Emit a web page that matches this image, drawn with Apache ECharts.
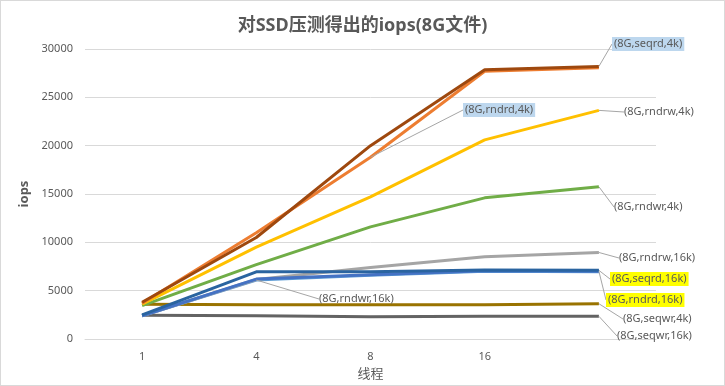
<!DOCTYPE html>
<html>
<head>
<meta charset="utf-8">
<script src="https://cdn.jsdelivr.net/npm/echarts@6/dist/echarts.min.js"></script>
<style>
html,body{margin:0;padding:0;background:#fff;}
#c{width:725px;height:386px;box-sizing:border-box;border:1px solid #D9D9D9;}
</style>
</head>
<body>
<div id="c"></div>
<script>
// ---- data ----
var categories = ['1', '4', '8', '16', ''];
var seqrd4k  = [3800, 10500, 20000, 27850, 28200];
var rndrd4k  = [3700, 11000, 18800, 27700, 28050];
var rndrw4k  = [3600, 9500, 14700, 20600, 23650];
var rndwr4k  = [3450, 7700, 11600, 14600, 15750];
var rndrw16k = [2400, 6150, 7400, 8500, 8950];
var rndwr16k = [2400, 6100, 6600, 7000, 6950];
var rndrd16k = [2400, 6200, 6650, 7050, 7000];
var seqrd16k = [2500, 6950, 6950, 7150, 7100];
var seqwr4k  = [3600, 3550, 3550, 3550, 3650];
var seqwr16k = [2450, 2400, 2300, 2350, 2350];
var yTicks = [0, 5000, 10000, 15000, 20000, 25000, 30000];

var txt = '#595959';
var fam = '"Noto Sans", "Noto Sans CJK SC", sans-serif';

function mk(name, data, color, labelIdx, lx, ly, bg) {
  var d = data.map(function (v, i) {
    if (i === labelIdx) {
      return {value: v, label: {show: true, formatter: name}};
    }
    return v;
  });
  var lab = {show: false, color: txt, fontSize: 11, fontFamily: fam, padding: [2, 2, 1, 2]};
  if (bg) lab.backgroundColor = bg;
  return {
    name: name, type: 'line', data: d,
    symbol: 'circle', symbolSize: 0.1, showSymbol: true,
    itemStyle: {color: color},
    lineStyle: {color: color, width: 3},
    label: lab,
    labelLine: {show: true, lineStyle: {color: '#A6A6A6', width: 1}},
    labelLayout: {x: lx, y: ly, align: 'left', verticalAlign: 'middle', hideOverlap: false, moveOverlap: null},
    emphasis: {disabled: true},
    z: 2
  };
}

var series = [
  mk('(8G,seqwr,16k)', seqwr16k, '#636363', 4, 614, 335),
  mk('(8G,seqwr,4k)', seqwr4k, '#997300', 4, 620, 318),
  mk('(8G,rndwr,16k)', rndwr16k, '#5B9BD5', 1, 316, 298),
  mk('(8G,rndrw,16k)', rndrw16k, '#A5A5A5', 4, 616, 257),
  mk('(8G,rndrd,16k)', rndrd16k, '#4472C4', 4, 605, 299, '#FFFF00'),
  mk('(8G,seqrd,16k)', seqrd16k, '#2A64A0', 4, 609, 278, '#FFFF00'),
  mk('(8G,rndwr,4k)', rndwr4k, '#70AD47', 4, 611, 206),
  mk('(8G,rndrw,4k)', rndrw4k, '#FFC000', 4, 621, 111),
  mk('(8G,rndrd,4k)', rndrd4k, '#ED7D31', 2, 462, 109, '#BDD7EE'),
  mk('(8G,seqrd,4k)', seqrd4k, '#9E480E', 4, 611, 43, '#BDD7EE')
];

var chart = echarts.init(document.getElementById('c'), null, {renderer: 'canvas'});
chart.setOption({
  animation: false,
  backgroundColor: '#fff',
  title: {
    text: '对SSD压测得出的iops(8G文件)',
    left: 'center', top: 11,
    textStyle: {color: txt, fontSize: 18, fontWeight: 'bold', fontFamily: fam}
  },
  grid: {left: 84, right: 68, top: 48, bottom: 46, containLabel: false, outerBoundsMode: 'none'},
  xAxis: {
    type: 'category', data: categories, boundaryGap: true,
    name: '线程', nameLocation: 'middle', nameGap: 29,
    nameTextStyle: {color: txt, fontSize: 13, fontFamily: fam},
    axisLine: {lineStyle: {color: '#D9D9D9', width: 1}},
    axisTick: {show: false},
    axisLabel: {color: txt, fontSize: 11, fontFamily: fam, margin: 12}
  },
  yAxis: {
    type: 'value', min: yTicks[0], max: yTicks[yTicks.length - 1], interval: 5000,
    name: 'iops', nameLocation: 'middle', nameGap: 46, nameRotate: 90,
    nameTextStyle: {color: txt, fontSize: 13, fontWeight: 'bold', fontFamily: fam},
    axisLine: {show: false}, axisTick: {show: false},
    axisLabel: {color: txt, fontSize: 11, fontFamily: fam, margin: 12,
      formatter: function (v) { return String(v); }},
    splitLine: {lineStyle: {color: '#D9D9D9', width: 1}}
  },
  series: series
});
</script>
</body>
</html>
